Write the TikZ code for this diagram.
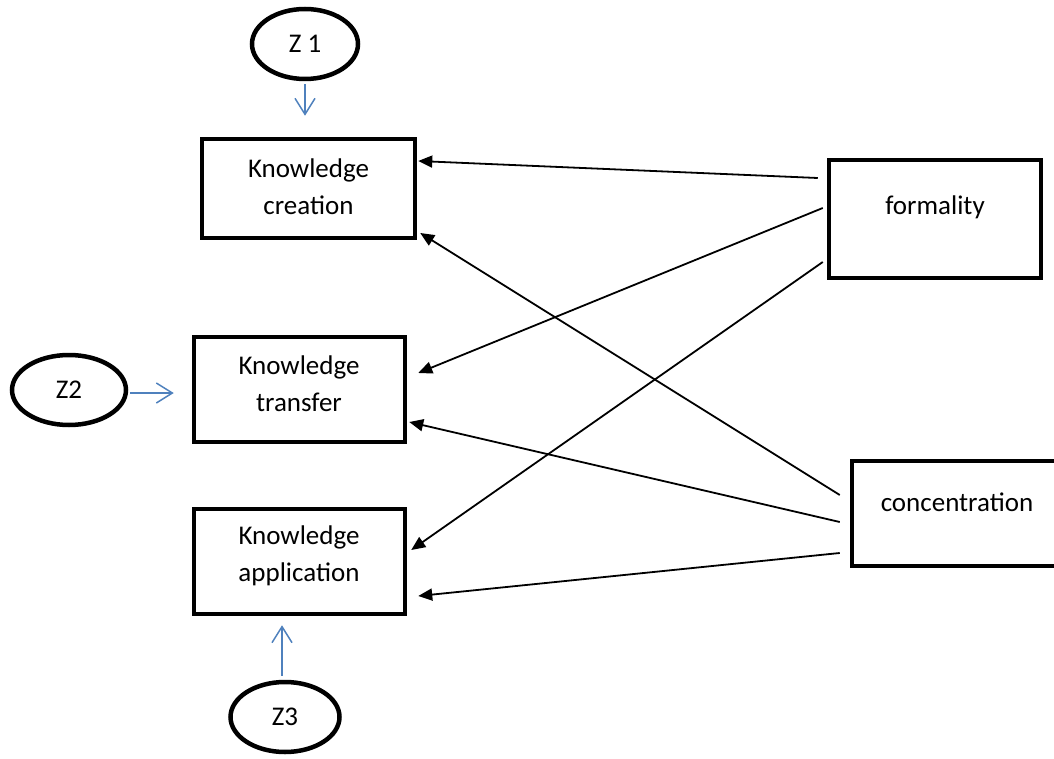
\documentclass[tikz,border=0pt]{standalone}
\usepackage{fontspec}
\setmainfont{Carlito}
\usetikzlibrary{arrows.meta,shapes.geometric,calc}
\definecolor{zblue}{RGB}{79,129,189}
\begin{document}
\begin{tikzpicture}[x=1pt,y=-1pt,
  box/.style={draw, line width=4.5pt, rectangle, inner sep=0pt},
  lbl/.style={font=\fontsize{27}{37}\selectfont, align=center, inner sep=0pt},
  oval/.style={draw, line width=4.5pt, ellipse, inner sep=0pt, font=\fontsize{27}{37}\selectfont},
  link/.style={line width=1.8pt, -{Triangle[length=14pt,width=12pt]}},
  zlink/.style={line width=1.5pt, draw=zblue, -{Straight Barb[length=16pt,width=20pt]}}]
\useasboundingbox (0,0) rectangle (1054,759);
% boxes
\node[box, minimum width=213pt, minimum height=99pt] (kc) at (308.5,188.5) {};
\node[lbl] (kcl) at (308.5,186.5) {Knowledge\\creation};
\node[box, minimum width=211pt, minimum height=105pt] (kt) at (299.5,389.5) {};
\node[lbl] (ktl) at (299,383.5) {Knowledge\\transfer};
\node[box, minimum width=211pt, minimum height=105pt] (ka) at (299.5,561.5) {};
\node[lbl] (kal) at (299,556) {Knowledge\\application};
\node[box, minimum width=212pt, minimum height=118pt] (fm) at (935,219) {};
\node[lbl] (fml) at (935,207) {formality};
\node[box, minimum width=240pt, minimum height=105pt] (cn) at (972,513.5) {};
\node[lbl] (cnl) at (957,502) {concentration};
% ovals
\node[oval, minimum width=106pt, minimum height=70pt] (z1) at (305,44) {Z 1};
\node[oval, minimum width=114pt, minimum height=70pt] (z2) at (69,390) {Z2};
\node[oval, minimum width=109pt, minimum height=70pt] (z3) at (285,717) {Z3};
% blue arrows
\draw[zlink] ($(z1.south)+(0,3)$) -- ($(kc.north)+(-3.5,-21)$);
\draw[zlink] ($(z2.east)+(2,3)$) -- ($(kt.west)+(-18,3.5)$);
\draw[zlink] ($(z3.north)+(-3,-4)$) -- ($(ka.south)+(-17.5,9)$);
% black arrows
\draw[link] ($(fm.west)+(-9,-41)$) -- ($(kc.east)+(1,-27.5)$);
\draw[link] ($(fm.west)+(-4,-11)$) -- ($(kt.east)+(11,-16.5)$);
\draw[link] ($(fm.west)+(-4,43)$) -- ($(ka.east)+(4,-11.5)$);
\draw[link] ($(cn.west)+(-10,-18.5)$) -- ($(kc.east)+(3,44.5)$);
\draw[link] ($(cn.west)+(-10,8.5)$) -- ($(kt.east)+(2,32.5)$);
\draw[link] ($(cn.west)+(-10,39.5)$) -- ($(ka.east)+(11,34.5)$);
\end{tikzpicture}
\end{document}
